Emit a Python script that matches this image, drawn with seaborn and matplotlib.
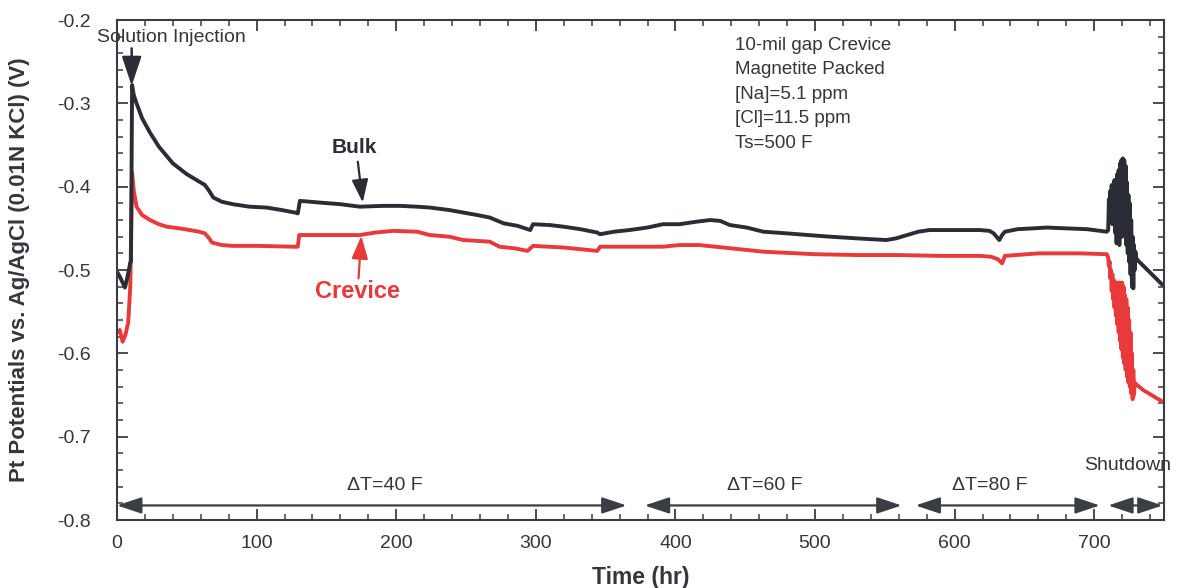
import matplotlib
matplotlib.use("Agg")
import matplotlib.pyplot as plt
from matplotlib.ticker import MultipleLocator
import numpy as np
import pandas as pd
import seaborn as sns

# Bulk Pt potential (V) vs time (hr)
bulk_t = [0, 2, 4, 5.7, 7, 8.5, 9.5, 10.0, 10.8, 12, 14, 18, 23.6, 30, 40, 50, 59, 63, 66,
          69, 75, 83, 95, 107, 118, 127.5, 129.5, 131, 145, 160, 174, 190, 203, 215, 224,
          238, 248, 258, 267, 277, 287, 296, 298, 310, 320, 332, 344, 346, 356, 367, 380,
          391, 403, 415, 425, 432, 439, 451, 463, 480, 495, 511, 530, 551, 558, 566, 574,
          582, 600, 618, 625, 628, 632, 634, 636, 645, 656, 666, 680, 695, 709,
          710.0, 710.5, 711.0, 711.5, 712.0, 712.5, 713.0, 713.5, 714.0, 714.5, 715.0,
          715.5, 716.0, 716.5, 717.0, 717.5, 718.0, 718.5, 719.0, 719.5, 720.0, 720.5,
          721.0, 721.5, 722.0, 722.5, 723.0, 723.5, 724.0, 724.5, 725.0, 725.5, 726.0,
          726.5, 727.0, 727.5, 728.0, 728.5, 729.0, 729.5, 730.0, 731, 740, 749]
bulk_v = [-0.502, -0.508, -0.515, -0.521, -0.512, -0.500, -0.491, -0.490, -0.278, -0.290,
          -0.300, -0.318, -0.335, -0.352, -0.372, -0.385, -0.394, -0.398, -0.405,
          -0.413, -0.418, -0.421, -0.424, -0.425, -0.428, -0.431, -0.432, -0.417, -0.419,
          -0.421, -0.424, -0.423, -0.423, -0.424, -0.425, -0.428, -0.431, -0.434, -0.437,
          -0.444, -0.447, -0.452, -0.445, -0.446, -0.448, -0.451, -0.455, -0.457, -0.454,
          -0.452, -0.449, -0.445, -0.445, -0.442, -0.440, -0.441, -0.446, -0.449, -0.454,
          -0.456, -0.458, -0.460, -0.462, -0.464, -0.462, -0.458, -0.454, -0.452, -0.452,
          -0.452, -0.453, -0.456, -0.464, -0.458, -0.454, -0.451, -0.450, -0.449, -0.450,
          -0.451, -0.454,
          -0.452, -0.415, -0.440, -0.405, -0.428, -0.398, -0.445, -0.400, -0.432, -0.392,
          -0.455, -0.395, -0.468, -0.385, -0.440, -0.380, -0.470, -0.372, -0.445, -0.368,
          -0.460, -0.366, -0.430, -0.368, -0.450, -0.375, -0.470, -0.395, -0.480, -0.410,
          -0.490, -0.420, -0.505, -0.440, -0.520, -0.460, -0.522, -0.470, -0.500, -0.478,
          -0.485, -0.488, -0.503, -0.518]

# Crevice Pt potential (V) vs time (hr)
crev_t = [0, 2, 4, 6, 8, 9.5, 10.8, 12, 14, 18, 23.6, 30, 35.6, 45, 59, 63, 66, 68, 75, 83,
          100, 127, 129.5, 130.5, 145, 160, 174, 185, 198, 215, 224, 238, 248, 258, 267,
          274, 285, 294, 298, 320, 344, 346, 367, 391, 403, 417, 440, 463, 500, 530, 559,
          590, 618, 626, 631, 634, 636, 660, 690, 709,
          710.0, 710.5, 711.0, 711.5, 712.0, 712.5, 713.0, 713.5, 714.0, 714.5, 715.0,
          715.5, 716.0, 716.5, 717.0, 717.5, 718.0, 718.5, 719.0, 719.5, 720.0, 720.5,
          721.0, 721.5, 722.0, 722.5, 723.0, 723.5, 724.0, 724.5, 725.0, 725.5, 726.0,
          726.5, 727.0, 727.5, 728.0, 728.5, 729.0, 730, 735, 742, 749]
crev_v = [-0.575, -0.572, -0.586, -0.578, -0.563, -0.520, -0.383, -0.405, -0.424, -0.434,
          -0.440, -0.445, -0.448, -0.450, -0.454, -0.456, -0.462, -0.467, -0.470, -0.471,
          -0.471, -0.472, -0.472, -0.458, -0.458, -0.458, -0.458, -0.455, -0.453, -0.454,
          -0.458, -0.460, -0.464, -0.465, -0.466, -0.472, -0.474, -0.477, -0.471, -0.473,
          -0.477, -0.472, -0.472, -0.472, -0.470, -0.470, -0.474, -0.478, -0.481, -0.482,
          -0.482, -0.483, -0.483, -0.484, -0.487, -0.492, -0.483, -0.480, -0.480, -0.481,
          -0.485, -0.495, -0.490, -0.510, -0.500, -0.525, -0.505, -0.535, -0.512, -0.545,
          -0.520, -0.555, -0.515, -0.565, -0.520, -0.575, -0.515, -0.585, -0.525, -0.595,
          -0.515, -0.605, -0.520, -0.612, -0.530, -0.620, -0.535, -0.628, -0.545, -0.635,
          -0.560, -0.640, -0.575, -0.648, -0.600, -0.655, -0.620, -0.650, -0.635, -0.637,
          -0.644, -0.651, -0.658]

# Test phases along the time axis
phase_start = [0, 378, 572, 710]
phase_end = [365, 562, 704, 749]
phase_label = ["\u0394T=40 F", "\u0394T=60 F", "\u0394T=80 F"]
phase_label_x = [192, 464, 625]

condition_lines = ["10-mil gap Crevice", "Magnetite Packed", "[Na]=5.1 ppm",
                   "[Cl]=11.5 ppm", "Ts=500 F"]

x_ticks = [0, 100, 200, 300, 400, 500, 600, 700]
y_ticks = [-0.8, -0.7, -0.6, -0.5, -0.4, -0.3, -0.2]

BULK_COLOR = "#2a2d35"
CREV_COLOR = "#e8393b"
TEXT_COLOR = "#33363c"
SPINE_COLOR = "#3a3d44"

sns.set_theme(style="ticks")
plt.rcParams["font.family"] = ["Liberation Sans", "DejaVu Sans"]

fig = plt.figure(figsize=(11.82, 5.88), dpi=100)
ax = fig.add_axes([0.099, 0.1156, 0.8858, 0.8503])

bulk_df = pd.DataFrame({"Time (hr)": bulk_t, "Potential (V)": bulk_v})
crev_df = pd.DataFrame({"Time (hr)": crev_t, "Potential (V)": crev_v})

sns.lineplot(data=crev_df, x="Time (hr)", y="Potential (V)", ax=ax, color=CREV_COLOR,
             linewidth=2.8, sort=False, estimator=None)
sns.lineplot(data=bulk_df, x="Time (hr)", y="Potential (V)", ax=ax, color=BULK_COLOR,
             linewidth=2.8, sort=False, estimator=None)

ax.set_xlim(0, 750)
ax.set_ylim(-0.8, -0.2)
ax.set_xticks(x_ticks)
ax.set_yticks(y_ticks)
ax.set_xticklabels([str(v) for v in x_ticks])
ax.set_yticklabels([f"{v:.1f}" for v in y_ticks])
ax.xaxis.set_minor_locator(MultipleLocator(20))
ax.yaxis.set_minor_locator(MultipleLocator(0.02))
ax.tick_params(which="both", direction="in", top=True, right=True, colors=SPINE_COLOR,
               labelcolor=TEXT_COLOR, labelsize=14)
ax.tick_params(which="major", length=8, width=1.3)
ax.tick_params(which="minor", length=4, width=1.1)
ax.tick_params(axis="x", pad=11)
ax.tick_params(axis="y", pad=19)
for s in ax.spines.values():
    s.set_color(SPINE_COLOR)
    s.set_linewidth(1.5)

ax.set_xlabel("Time (hr)", fontsize=16.5, fontweight="bold", color=TEXT_COLOR, labelpad=10)
ax.set_ylabel("Pt Potentials vs. Ag/AgCl (0.01N KCl) (V)", fontsize=16, fontweight="bold",
              color=TEXT_COLOR, labelpad=19)

# Injection marker
ax.text(39, -0.2215, "Solution Injection", fontsize=14, color=TEXT_COLOR,
        ha="center", va="center")
ax.annotate("", xy=(10.5, -0.279), xytext=(10.5, -0.234),
            arrowprops=dict(arrowstyle="-|>,head_length=0.9,head_width=0.3",
                            color=BULK_COLOR, lw=1.8, mutation_scale=20,
                            shrinkA=0, shrinkB=0))

# Series labels with arrows
ax.text(170, -0.3535, "Bulk", fontsize=15, fontweight="bold", color=BULK_COLOR,
        ha="center", va="center")
ax.annotate("", xy=(176, -0.419), xytext=(172.5, -0.370),
            arrowprops=dict(arrowstyle="-|>,head_length=0.7,head_width=0.25",
                            color=BULK_COLOR, lw=1.6, mutation_scale=20,
                            shrinkA=0, shrinkB=0))
ax.text(172, -0.526, "Crevice", fontsize=17, fontweight="bold", color=CREV_COLOR,
        ha="center", va="center")
ax.annotate("", xy=(175, -0.459), xytext=(173, -0.510),
            arrowprops=dict(arrowstyle="-|>,head_length=0.7,head_width=0.25",
                            color=CREV_COLOR, lw=1.6, mutation_scale=20,
                            shrinkA=0, shrinkB=0))

# Test conditions
for i, line in enumerate(condition_lines):
    ax.text(443, -0.230 - i * 0.0295, line, fontsize=13.5, color=TEXT_COLOR,
            ha="left", va="center")

# Phase arrows along the bottom
arrow_y = -0.7825
for xs, xe in zip(phase_start, phase_end):
    ax.annotate("", xy=(xe, arrow_y), xytext=(xs, arrow_y),
                arrowprops=dict(arrowstyle="<|-|>,head_length=0.75,head_width=0.25",
                                color=SPINE_COLOR, lw=1.6, mutation_scale=20,
                                shrinkA=0, shrinkB=0))
for lbl, lx in zip(phase_label, phase_label_x):
    ax.text(lx, -0.759, lbl, fontsize=14, color=TEXT_COLOR, ha="center", va="center")
ax.text(724, -0.735, "Shutdown", fontsize=14, color=TEXT_COLOR, ha="center", va="center",
        clip_on=False)

fig.savefig("out.png", dpi=100, facecolor="white")
